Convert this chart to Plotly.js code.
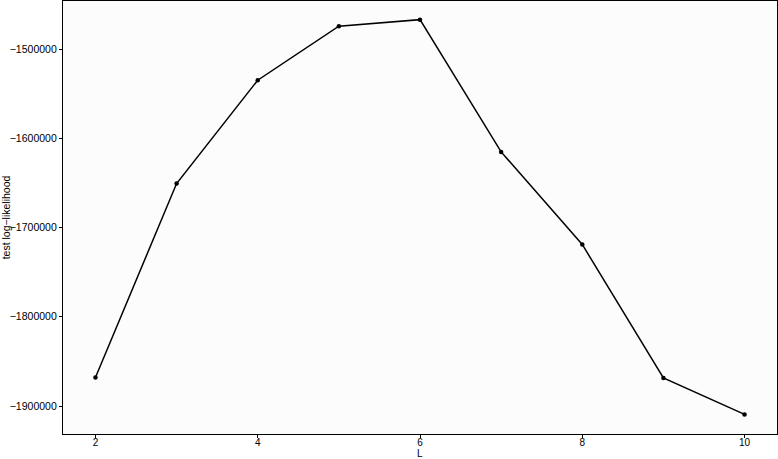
<!DOCTYPE html>
<html>
<head>
<meta charset="utf-8">
<script src="https://cdn.plot.ly/plotly-3.0.1.min.js"></script>
<style>
  html, body { margin: 0; padding: 0; background: #ffffff; }
  #chart { width: 778px; height: 459px; }
</style>
</head>
<body>
<div id="chart"></div>
<script>
// number of components L vs test log-likelihood
const L_values = [2, 3, 4, 5, 6, 7, 8, 9, 10];
const loglik = [-1868000, -1650600, -1534700, -1474200, -1466800, -1615100, -1718900, -1868600, -1909400];
const x_ticks = [2, 4, 6, 8, 10];
const y_ticks = [-1900000, -1800000, -1700000, -1600000, -1500000];

var axisFont = { family: "Liberation Sans, Arial, sans-serif", size: 10.5, color: "#000000" };
var smallFont = { family: "Liberation Sans, Arial, sans-serif", size: 10, color: "#000000" };

var data = [
  {
    x: L_values,
    y: loglik,
    type: "scatter",
    mode: "lines+markers",
    line: { color: "#000000", width: 1.5 },
    marker: { color: "#000000", size: 4.5 },
    hoverinfo: "x+y"
  }
];

var layout = {
  width: 778,
  height: 459,
  margin: { l: 63, r: 1, t: 1, b: 25, pad: 0 },
  paper_bgcolor: "#ffffff",
  plot_bgcolor: "#fcfcfc",
  showlegend: false,
  font: axisFont,
  xaxis: {
    range: [1.6, 10.4],
    tickvals: x_ticks,
    ticktext: x_ticks.map(String),
    ticks: "outside",
    ticklen: 3,
    tickwidth: 1,
    tickcolor: "#000000",
    tickfont: smallFont,
    ticklabelstandoff: -4,
    showgrid: false,
    zeroline: false,
    showline: true,
    linecolor: "#000000",
    linewidth: 1.3,
    mirror: true,
    automargin: false
  },
  yaxis: {
    title: { text: "test log\u2212likelihood", font: axisFont, standoff: 2 },
    range: [-1931400, -1445900],
    tickvals: y_ticks,
    ticktext: y_ticks.map(function (v) { return "\u2212" + Math.abs(v); }),
    ticks: "outside",
    ticklen: 3,
    tickwidth: 1,
    tickcolor: "#000000",
    tickfont: axisFont,
    showgrid: false,
    zeroline: false,
    showline: true,
    linecolor: "#000000",
    linewidth: 1.3,
    mirror: true,
    automargin: false
  },
  // x axis title placed by hand so it sits under the tick labels like the original
  annotations: [
    {
      text: "L",
      xref: "paper",
      yref: "paper",
      x: 0.5,
      y: 0,
      xanchor: "center",
      yanchor: "top",
      yshift: -13,
      showarrow: false,
      borderpad: 0,
      font: smallFont
    }
  ]
};

Plotly.newPlot("chart", data, layout, { displayModeBar: false, responsive: false });
</script>
</body>
</html>
